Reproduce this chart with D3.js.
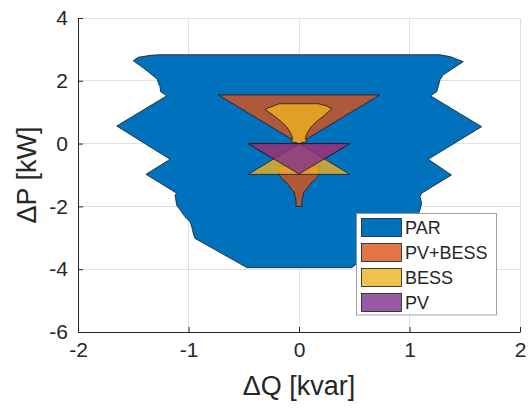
<!DOCTYPE html>
<html><head><meta charset="utf-8">
<script src="https://cdn.jsdelivr.net/npm/d3@7"></script>
<style>body{margin:0;background:#fff} text{font-family:"Liberation Sans",Arial,Helvetica,sans-serif;fill:#262626}</style>
</head><body>
<svg id="c" width="528" height="414"></svg>
<script>
const xTicks = [-2, -1, 0, 1, 2];
const yTicks = [-6, -4, -2, 0, 2, 4];
const seriesNames = ["PAR", "PV+BESS", "BESS", "PV"];
const seriesColors = ["#0072BD", "#D95319", "#EDB120", "#7E2F8E"];
const seriesAlpha = [1, 0.8, 0.8, 0.8];

// [ΔQ, ΔP] boundary vertices
const parBoundary = [[-1.273,2.83],[1.276,2.83],[1.367,2.77],[1.487,2.61],[1.396,2.40],[1.306,2.19],[1.276,2.03],[1.260,1.81],[1.246,1.65],[1.19,1.52],[1.653,0.54],[1.17,-0.50],[1.38,-1.0],[1.11,-1.58],[1.095,-1.69],[1.11,-1.90],[1.095,-2.11],[1.065,-2.38],[0.477,-3.95],[-0.47,-3.95],[-0.941,-3.02],[-0.957,-2.86],[-0.971,-2.65],[-0.986,-2.49],[-1.032,-2.33],[-1.077,-2.11],[-1.107,-1.96],[-1.122,-1.64],[-1.107,-1.58],[-1.385,-0.98],[-1.167,-0.50],[-1.65,0.56],[-1.197,1.52],[-1.252,1.65],[-1.258,1.81],[-1.273,1.92],[-1.282,2.05],[-1.348,2.24],[-1.424,2.45],[-1.50,2.64],[-1.454,2.75],[-1.348,2.81]];
const pvBessBoundary = [[-0.73,1.55],[0.73,1.55],[0,0],[0.46,0],[0.118,-0.72],[0.187,-0.72],[0.178,-0.99],[0.166,-1.07],[0.142,-1.15],[0.118,-1.22],[0.097,-1.31],[0.081,-1.39],[0.066,-1.47],[0.051,-1.52],[0.042,-1.57],[0.033,-1.73],[0.027,-1.79],[0.027,-2.0],[-0.027,-2.0],[-0.027,-1.79],[-0.033,-1.73],[-0.042,-1.57],[-0.051,-1.52],[-0.066,-1.47],[-0.081,-1.39],[-0.097,-1.31],[-0.118,-1.22],[-0.142,-1.15],[-0.166,-1.07],[-0.178,-0.99],[-0.187,-0.72],[-0.118,-0.72],[-0.46,0],[0,0]];
const bessBoundary = [[0,0],[-0.075,0.07],[-0.057,0.16],[-0.066,0.26],[-0.081,0.37],[-0.111,0.53],[-0.157,0.69],[-0.232,0.90],[-0.308,1.09],[-0.262,1.16],[-0.178,1.27],[0.175,1.27],[0.25,1.20],[0.296,1.11],[0.23,0.90],[0.155,0.69],[0.11,0.53],[0.08,0.37],[0.066,0.26],[0.057,0.16],[0.075,0.07],[0,0],[0.46,-0.98],[-0.46,-0.98]];
const pvBoundary = [[-0.46,0],[0.46,0],[0,-0.97]];
const boundaries = [parBoundary, pvBessBoundary, bessBoundary, pvBoundary];

const svg = d3.select("#c");
svg.append("rect").attr("width",528).attr("height",414).attr("fill","#fff");
const x = d3.scaleLinear().domain([-2,2]).range([78,520]);
const y = d3.scaleLinear().domain([-6,4]).range([332,18]);

// grid
const g = svg.append("g");
g.selectAll(".gx").data(xTicks).join("line").attr("x1",d=>x(d)).attr("x2",d=>x(d)).attr("y1",y(-6)).attr("y2",y(4)).attr("stroke","#dfdfdf").attr("stroke-width",1).attr("shape-rendering","crispEdges");
g.selectAll(".gy").data(yTicks).join("line").attr("y1",d=>y(d)).attr("y2",d=>y(d)).attr("x1",x(-2)).attr("x2",x(2)).attr("stroke","#dfdfdf").attr("stroke-width",1).attr("shape-rendering","crispEdges");

// patches
const line = d3.line().x(d=>x(d[0])).y(d=>y(d[1])).curve(d3.curveLinearClosed);
boundaries.forEach((b,i)=>{
  svg.append("path").attr("d",line(b)).attr("fill",seriesColors[i]).attr("fill-opacity",seriesAlpha[i])
    .attr("stroke","#1a1a1a").attr("stroke-width",0.8).attr("stroke-linejoin","round");
});

// axes
const ax = svg.append("g").attr("transform",`translate(0,${y(-6)})`)
  .call(d3.axisBottom(x).tickValues(xTicks).tickFormat(d=>String(d)).tickSizeInner(-5).tickSizeOuter(0).tickPadding(10));
const ay = svg.append("g").attr("transform",`translate(${x(-2)},0)`)
  .call(d3.axisLeft(y).tickValues(yTicks).tickFormat(d=>String(d)).tickSizeInner(-5).tickSizeOuter(0).tickPadding(10));
[ax,ay].forEach(a=>{
  a.select(".domain").attr("stroke","#262626").attr("stroke-width",1);
  a.selectAll(".tick line").attr("stroke","#262626");
  a.selectAll(".tick text").attr("font-size",21).attr("fill","#262626").attr("font-family","Liberation Sans, Arial, sans-serif");
});

svg.append("text").attr("x",x(0)).attr("y",395).attr("text-anchor","middle").attr("font-size",27).text("ΔQ [kvar]");
svg.append("text").attr("transform",`translate(36,${(y(4)+y(-6))/2}) rotate(-90)`).attr("text-anchor","middle").attr("font-size",27).text("ΔP [kW]");

// legend
const lg = svg.append("g");
lg.append("rect").attr("x",356.5).attr("y",213.5).attr("width",140).attr("height",101.5).attr("fill","#fff").attr("stroke","#8c8c8c").attr("stroke-width",0.8);
seriesNames.forEach((n,i)=>{
  const yy = 218.5 + i*25;
  lg.append("rect").attr("x",361.5).attr("y",yy).attr("width",40).attr("height",18).attr("fill",seriesColors[i]).attr("fill-opacity",seriesAlpha[i]).attr("stroke","#1a1a1a").attr("stroke-width",0.8);
  lg.append("text").attr("x",405).attr("y",yy+15.5).attr("font-size",18).text(n);
});
</script>
</body></html>
